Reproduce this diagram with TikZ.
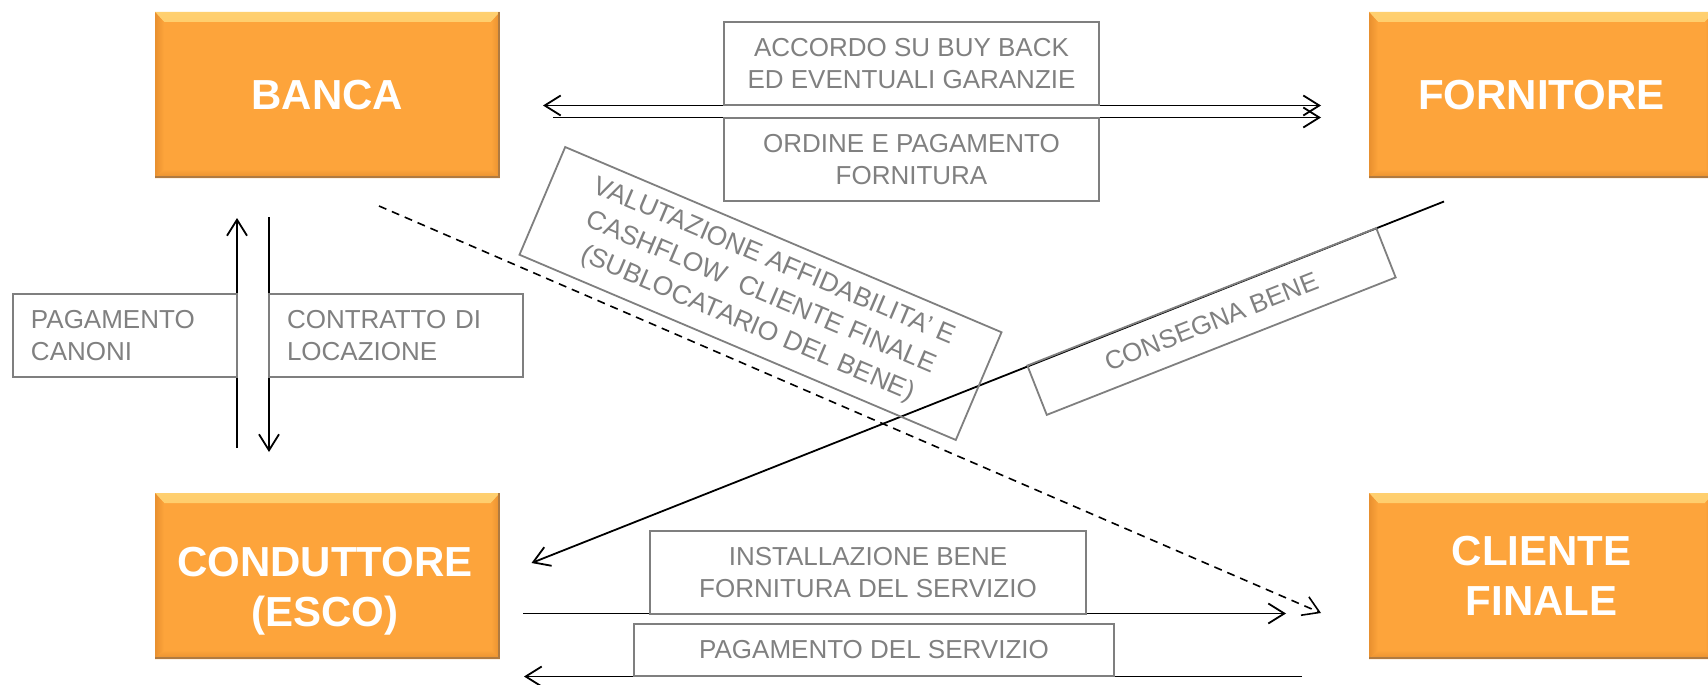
\documentclass[tikz,border=0pt]{standalone}
\usepackage{fontspec}
\setmainfont{Liberation Sans}
\usetikzlibrary{arrows.meta}
\definecolor{orng}{HTML}{FDA43B}
\definecolor{bevlight}{HTML}{FFD070}
\definecolor{orngdark}{HTML}{E8902F}
\definecolor{edgebrown}{HTML}{B07A40}
\definecolor{txtgray}{HTML}{808080}
\definecolor{boxgray}{HTML}{7F7F7F}
\tikzset{
  barb/.tip={Straight Barb[length=16bp,width=20bp]},
  orangebox/.style={inner sep=0pt, minimum width=345bp, minimum height=166bp,
    fill=orng, text=white, font=\fontsize{42bp}{50bp}\selectfont\bfseries, align=center,
    path picture={
      \shade[top color=bevlight, bottom color=orng]
        (path picture bounding box.north west) -- (path picture bounding box.north east)
        -- ([xshift=-9bp,yshift=-10bp]path picture bounding box.north east)
        -- ([xshift=9bp,yshift=-10bp]path picture bounding box.north west) -- cycle;
      \shade[left color=orngdark, right color=orng]
        (path picture bounding box.north west) -- ([xshift=9bp,yshift=-10bp]path picture bounding box.north west)
        -- ([xshift=9bp,yshift=9bp]path picture bounding box.south west)
        -- (path picture bounding box.south west) -- cycle;
      \shade[top color=orng, bottom color=orngdark]
        (path picture bounding box.south west) -- ([xshift=9bp,yshift=9bp]path picture bounding box.south west)
        -- ([xshift=-9bp,yshift=9bp]path picture bounding box.south east)
        -- (path picture bounding box.south east) -- cycle;
      \shade[left color=orng, right color=orngdark]
        (path picture bounding box.north east) -- ([xshift=-9bp,yshift=-10bp]path picture bounding box.north east)
        -- ([xshift=-9bp,yshift=9bp]path picture bounding box.south east)
        -- (path picture bounding box.south east) -- cycle;
      \fill[edgebrown]
        (path picture bounding box.south west) rectangle ([yshift=2bp]path picture bounding box.south east);
      \fill[edgebrown]
        ([xshift=-2bp]path picture bounding box.north east) rectangle (path picture bounding box.south east);
    }},
  orangetext/.style={inner sep=0pt, text=white, font=\fontsize{42bp}{50bp}\selectfont\bfseries, align=center},
  graybox/.style={draw=boxgray, line width=1.8bp, text=txtgray,
    font=\fontsize{26bp}{32bp}\selectfont, align=center, inner sep=0pt},
  leftbox/.style={align=left, inner xsep=18bp},
  conn/.style={line width=1.8bp, black, -barb},
  connboth/.style={line width=1.8bp, black, barb-barb},
  conndash/.style={line width=1.6bp, black, dash pattern=on 8bp off 6bp, -barb},
}
\begin{document}
\begin{tikzpicture}[x=1bp,y=-1bp]
\useasboundingbox (0,0) rectangle (1708,685);

% main boxes
\node[orangebox] (banca) at (327.5,95) {BANCA};
\node[orangebox] (fornitore) at (1541.5,95) {FORNITORE};
\node[orangebox] (conduttore) at (327.5,576) {};
\node[orangetext] (conduttoretext) at (325,591) {CONDUTTORE\\(ESCO)};
\node[orangebox] (cliente) at (1541.5,576) {CLIENTE\\FINALE};

% connector end points
\coordinate (a1s) at (543,105.5);
\coordinate (a1e) at (1321,105.5);
\coordinate (a2s) at (553,117.5);
\coordinate (a2e) at (1321,117.5);
\coordinate (v1s) at (237,448);
\coordinate (v1e) at (237,218);
\coordinate (v2s) at (269,217);
\coordinate (v2e) at (269,452);
\coordinate (ds) at (1444,201.5);
\coordinate (de) at (531.5,563);
\coordinate (dashs) at (379,206);
\coordinate (dashe) at (1321,613);
\coordinate (b1s) at (523,613.5);
\coordinate (b1e) at (1286,613.5);
\coordinate (b2s) at (1302,676.5);
\coordinate (b2e) at (524,676.5);

% connectors
\draw[connboth] (a1s) -- (a1e);
\draw[conn] (a2s) -- (a2e);
\draw[conn] (v1s) -- (v1e);
\draw[conn] (v2s) -- (v2e);
\draw[conn] (ds) -- (de);
\draw[conndash] (dashs) -- (dashe);
\draw[conn] (b1s) -- (b1e);
\draw[conn] (b2s) -- (b2e);

% label boxes
\node[graybox, minimum width=375bp, minimum height=83bp] (accordo) at (911.5,63.5)
  {ACCORDO SU BUY BACK\\ED EVENTUALI GARANZIE};
\node[graybox, minimum width=375bp, minimum height=83bp] (ordine) at (911.5,159.5)
  {ORDINE E PAGAMENTO\\FORNITURA};
\node[graybox, leftbox, text width=188bp, minimum height=83bp] (canoni) at (125,335.5)
  {PAGAMENTO\\CANONI};
\node[graybox, leftbox, text width=218bp, minimum height=83bp] (contratto) at (396,335.5)
  {CONTRATTO DI\\LOCAZIONE};
\node[graybox, minimum width=436bp, minimum height=83bp] (install) at (868,572.5)
  {INSTALLAZIONE BENE\\FORNITURA DEL SERVIZIO};
\node[graybox, minimum width=480bp, minimum height=52bp] (servizio) at (874,650)
  {PAGAMENTO DEL SERVIZIO};
\node[graybox, minimum width=474bp, minimum height=117bp, rotate=-23,
  font=\fontsize{26.5bp}{34bp}\selectfont] (valutazione) at (760.5,293.5)
  {VALUTAZIONE AFFIDABILITA’ E\\CASHFLOW\ \ CLIENTE FINALE\\(SUBLOCATARIO DEL BENE)};
\node[graybox, minimum width=375bp, minimum height=53bp, rotate=21.5] (consegna) at (1211.5,321.5)
  {CONSEGNA BENE};
\end{tikzpicture}
\end{document}
